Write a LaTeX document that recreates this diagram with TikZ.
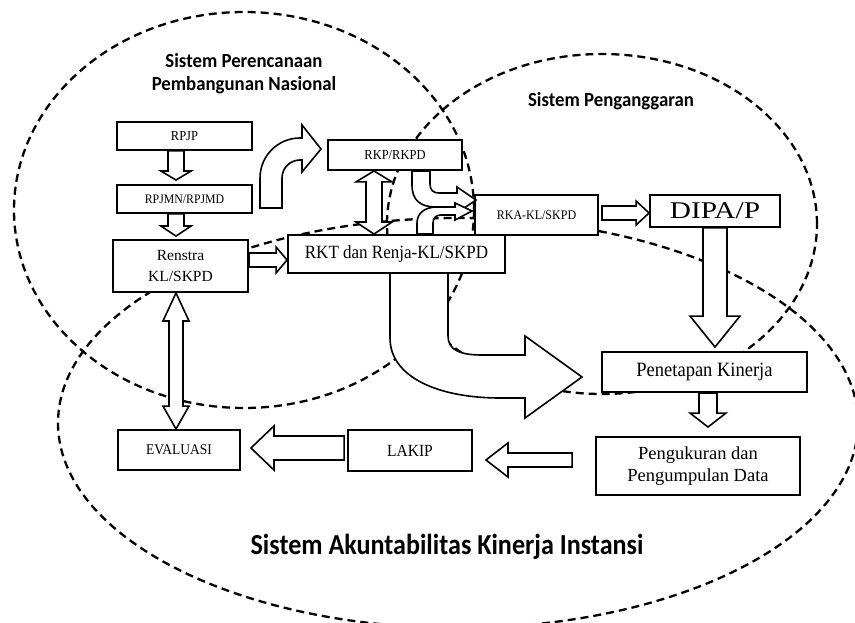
\documentclass[tikz,border=0pt]{standalone}
\usepackage{fontspec}
\setmainfont{Liberation Serif}
\newfontfamily\titlefont{Carlito}
\usetikzlibrary{calc}

\tikzset{
  box/.style={draw, line width=1.9pt, fill=white, inner sep=0pt, align=center},
  ell/.style={draw, dash pattern=on 8pt off 5pt, line width=2.3pt},
  arr/.style={draw, line width=1.6pt, fill=white, line join=miter},
  ttl/.style={font=\titlefont\bfseries\fontsize{20}{23}\selectfont, align=center, inner sep=0pt},
}

% hollow block arrows: #1 start, #2 tip, #3 half shaft, #4 half head, #5 head length
\newcommand\downarr[5]{\path[arr] let \p1=#1, \p2=#2 in
  (\x2-#3,\y1) -- (\x2-#3,\y2+#5) -- (\x2-#4,\y2+#5) -- (\x2,\y2) -- (\x2+#4,\y2+#5) -- (\x2+#3,\y2+#5) -- (\x2+#3,\y1) -- cycle;}
\newcommand\rightarr[5]{\path[arr] let \p1=#1, \p2=#2 in
  (\x1,\y2+#3) -- (\x2-#5,\y2+#3) -- (\x2-#5,\y2+#4) -- (\x2,\y2) -- (\x2-#5,\y2-#4) -- (\x2-#5,\y2-#3) -- (\x1,\y2-#3) -- cycle;}
\newcommand\leftarr[5]{\path[arr] let \p1=#1, \p2=#2 in
  (\x1,\y2+#3) -- (\x2+#5,\y2+#3) -- (\x2+#5,\y2+#4) -- (\x2,\y2) -- (\x2+#5,\y2-#4) -- (\x2+#5,\y2-#3) -- (\x1,\y2-#3) -- cycle;}
% double vertical: #1 top tip, #2 bottom tip, #3 half shaft, #4 half head, #5 top head length, #6 bottom head length
\newcommand\dblvarr[6]{\path[arr] let \p1=#1, \p2=#2 in
  (\x1,\y1) -- (\x1+#4,\y1-#5) -- (\x1+#3,\y1-#5) -- (\x1+#3,\y2+#6) -- (\x1+#4,\y2+#6) -- (\x1,\y2)
  -- (\x1-#4,\y2+#6) -- (\x1-#3,\y2+#6) -- (\x1-#3,\y1-#5) -- (\x1-#4,\y1-#5) -- cycle;}

\begin{document}
\begin{tikzpicture}[x=1pt,y=-1pt]
\fill[white] (0,0) rectangle (855,623);
\useasboundingbox (0,0) rectangle (855,623);

% ellipses
\draw[ell] (244,210) ellipse [x radius=230pt, y radius=198pt];
\draw[ell] (602,224) ellipse [x radius=215pt, y radius=170pt];
\draw[ell] (458,423) ellipse [x radius=400pt, y radius=205pt];

% titles
\node[ttl] (tplan) at (244,74) {\scalebox{0.94}[1]{Sistem Perencanaan}\\\scalebox{0.94}[1]{Pembangunan Nasional}};
\node[ttl] (tbud) at (611,101) {\scalebox{0.94}[1]{Sistem Penganggaran}};
\node[font=\titlefont\bfseries\fontsize{29}{32}\selectfont, inner sep=0pt] (tsaki) at (447,547) {\scalebox{0.9}[1]{Sistem Akuntabilitas Kinerja Instansi}};

% boxes
\node[box, minimum width=135pt, minimum height=28pt, font=\fontsize{12.5}{14}\selectfont] (rpjp) at (184.5,136) {\scalebox{1}[1.1]{RPJP}};
\node[box, minimum width=135pt, minimum height=28pt, font=\fontsize{11.8}{14}\selectfont] (rpjmn) at (184.5,199) {\scalebox{1}[1.1]{RPJMN/RPJMD}};
\node[box, minimum width=135pt, minimum height=52pt, font=\fontsize{15.5}{21}\selectfont] (renstra) at (180.5,266) {Renstra\\KL/SKPD};
\node[box, minimum width=134pt, minimum height=30pt, font=\fontsize{12.5}{14}\selectfont] (rkp) at (395,155) {\scalebox{1}[1.1]{RKP/RKPD}};
\node[box, minimum width=217pt, minimum height=38pt, font=\fontsize{17}{19}\selectfont] (rkt) at (396.5,254) {\scalebox{1}[1.1]{RKT dan Renja-KL/SKPD}};
\node[box, minimum width=123pt, minimum height=40pt, font=\fontsize{12}{14}\selectfont] (rka) at (536.5,215) {\scalebox{1}[1.1]{RKA-KL/SKPD}};
\node[box, minimum width=130pt, minimum height=32pt, font=\fontsize{24}{26}\selectfont] (dipa) at (715,211) {\scalebox{1.22}[1]{DIPA/P}};
\node[box, minimum width=205pt, minimum height=40pt, font=\fontsize{18.5}{20}\selectfont] (pk) at (704.5,372) {\scalebox{1}[1.1]{Penetapan Kinerja}};
\node[box, minimum width=204pt, minimum height=58pt, font=\fontsize{18.5}{22}\selectfont] (ppd) at (698,466) {Pengukuran dan\\Pengumpulan Data};
\node[box, minimum width=124pt, minimum height=41pt, font=\fontsize{15.5}{18}\selectfont] (lakip) at (410,450.5) {\scalebox{1}[1.1]{LAKIP}};
\node[box, minimum width=122pt, minimum height=40pt, font=\fontsize{13.5}{18}\selectfont] (eval) at (179,450) {\scalebox{1}[1.1]{EVALUASI}};

% straight block arrows
\downarr{($(rpjp.south)+(-8.5,0)$)}{($(rpjmn.north)+(-8.5,-4)$)}{8pt}{15pt}{9pt}
\downarr{($(rpjmn.south)+(-8.5,0)$)}{($(renstra.north)+(-4.5,-3)$)}{8pt}{15pt}{10pt}
\rightarr{(renstra.east)}{($(rkt.west)+(0,6)$)}{7pt}{13pt}{11pt}
\rightarr{($(rka.east)+(3,0)$)}{($(dipa.west)+(0,2)$)}{7pt}{12pt}{13pt}
\downarr{(dipa.south)}{($(pk.north)+(10.5,-4)$)}{12pt}{25pt}{31pt}
\downarr{($(pk.south)+(3.5,0)$)}{($(ppd.north)+(10,-9)$)}{9pt}{18pt}{14pt}
\leftarr{($(ppd.west)+(-23,0)$)}{($(lakip.east)+(13,9.5)$)}{7pt}{17pt}{22pt}
\leftarr{($(lakip.west)+(-3,0)$)}{($(eval.east)+(10,-2)$)}{12pt}{22pt}{23pt}
\dblvarr{($(renstra.south)+(-4.5,0)$)}{($(eval.north)+(-3,0)$)}{7pt}{13pt}{28pt}{23pt}
\dblvarr{($(rkp.south)+(-21,0)$)}{($(rkt.north)+(-22.5,0)$)}{8pt}{18pt}{11pt}{12pt}

% curved block arrows
\path[arr] (260,208) -- (260,178) arc[start angle=180, end angle=90, radius=40pt] -- (302,138) -- (302,125)
  -- (321,149) -- (302,172) -- (302,160) -- (300,160) arc[start angle=90, end angle=180, radius=18pt] -- (282,208) -- cycle;
\path[arr] (412,171) -- (412,185) .. controls (412,200) and (420,207) .. (436,207) -- (457,207) -- (457,213)
  -- (476,200) -- (457,187) -- (457,193) -- (439,193) .. controls (433,193) and (430,190) .. (430,184) -- (430,171) -- cycle;
\path[arr] (417,234) -- (417,223) .. controls (417,213) and (425,207) .. (437,207) -- (455,207) -- (455,203)
  -- (472,211) -- (455,220) -- (455,215) -- (441,215) .. controls (436,215) and (433,218) .. (433,223) -- (433,234) -- cycle;
\path[arr] (390,273) -- (390,338) .. controls (390,378) and (440,398) .. (500,398) -- (525,398) -- (525,418)
  -- (582,377) -- (525,336) -- (525,355) -- (482,355) .. controls (460,355) and (448,350) .. (448,336) -- (448,273) -- cycle;
\end{tikzpicture}
\end{document}
